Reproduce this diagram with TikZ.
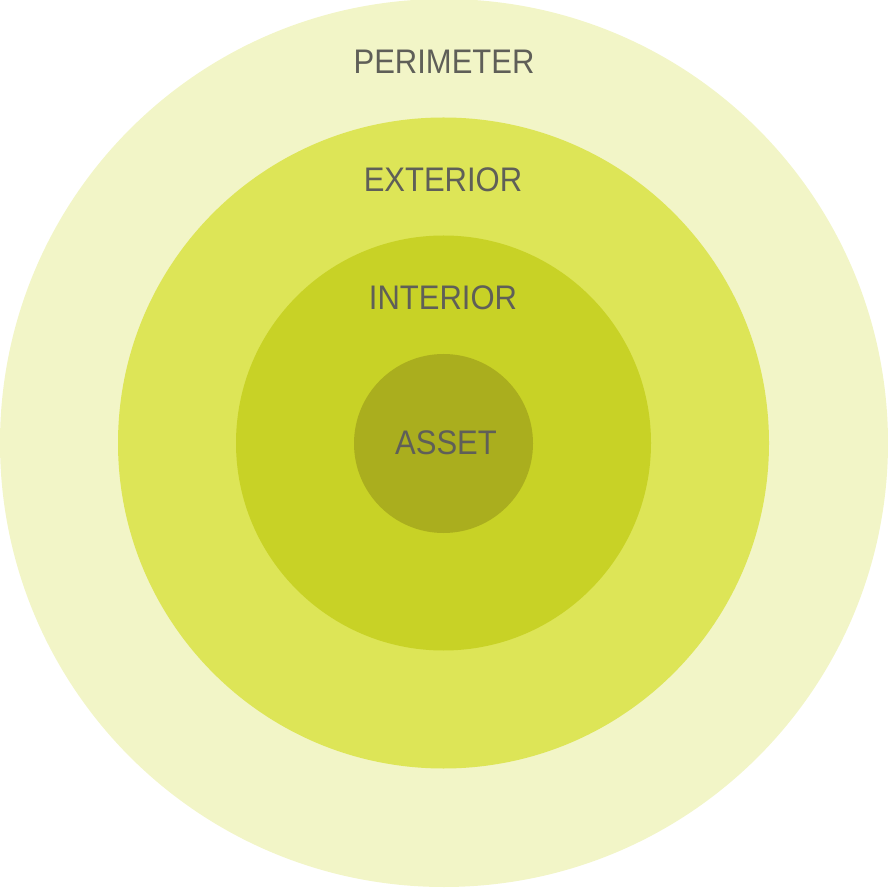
\documentclass[tikz,border=0pt]{standalone}
\usepackage{fontspec}
\usepackage{graphicx}
\setmainfont{Liberation Sans}
\definecolor{cperim}{RGB}{242,245,199}
\definecolor{cext}{RGB}{221,229,87}
\definecolor{cint}{RGB}{200,210,38}
\definecolor{casset}{RGB}{170,174,30}
\definecolor{ctext}{RGB}{95,95,88}
\newcommand{\tallcaps}[1]{\scalebox{1}[1.1]{#1}}
\begin{document}
\begin{tikzpicture}[x=1pt,y=1pt,
  ring/.style={circle,inner sep=0pt,draw=none},
  lbl/.style={text=ctext,font=\fontsize{31}{31}\selectfont,inner sep=0pt,anchor=center}]
\useasboundingbox (0,0) rectangle (888,887);
\node[ring,fill=cperim,minimum size=888pt] (perim) at (444,444) {};
\node[ring,fill=cext,minimum size=651pt] (ext) at (443.5,444) {};
\node[ring,fill=cint,minimum size=415pt] (int) at (443.5,444) {};
\node[ring,fill=casset,minimum size=179pt] (asset) at (443.5,443.5) {};
\node[lbl] (tperim) at (444,825) {\tallcaps{PERIMETER}};
\node[lbl] (text) at (443,707) {\tallcaps{EXTERIOR}};
\node[lbl] (tint) at (443,589) {\tallcaps{INTERIOR}};
\node[lbl] (tasset) at (446,444) {\tallcaps{ASSET}};
\end{tikzpicture}
\end{document}
